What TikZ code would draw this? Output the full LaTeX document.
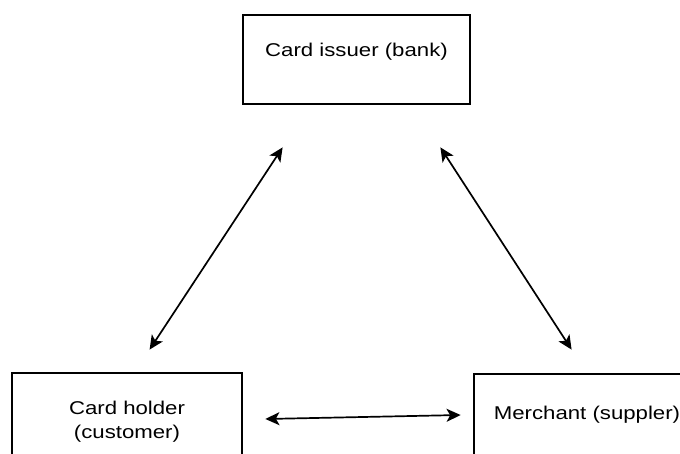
\documentclass[tikz,border=0pt]{standalone}
\usepackage{fontspec}
\setmainfont[FakeStretch=1.2]{Liberation Sans}
\usetikzlibrary{arrows.meta, positioning, calc}

\tikzset{
  party/.style={draw, line width=2.8pt, align=center,
                font=\fontsize{18.5}{24}\selectfont},
  link/.style={{Stealth[length=14pt,width=13pt,inset=3.5pt]}-{Stealth[length=14pt,width=13pt,inset=3.5pt]},
               line width=1.7pt},
}

\begin{document}
\begin{tikzpicture}[x=1pt, y=1pt]
  \clip (0,0) rectangle (680,453);

  %% The three parties
  \node[party, minimum width=227pt, minimum height=89pt,
        text height=13pt, text depth=18pt] (issuer) at (356.5,393.5)
    {Card issuer (bank)};
  \node[party, minimum width=230pt, minimum height=98pt] (holder) at (127,31)
    {Card holder\\(customer)};
  \node[party, minimum width=226pt, minimum height=96pt,
        text height=13pt, text depth=18pt] (merchant) at (587,31)
    {Merchant (suppler)};

  %% Two-way links between them
  \draw[link] ([shift={(139,22)}]holder.north west)
           -- ([shift={(41,-42)}]issuer.south west);
  \draw[link] ([shift={(-31,-42)}]issuer.south east)
           -- ([shift={(99,23)}]merchant.north west);
  \draw[link] ([shift={(22,3)}]holder.east)
           -- ([shift={(-12,7)}]merchant.west);
\end{tikzpicture}
\end{document}
